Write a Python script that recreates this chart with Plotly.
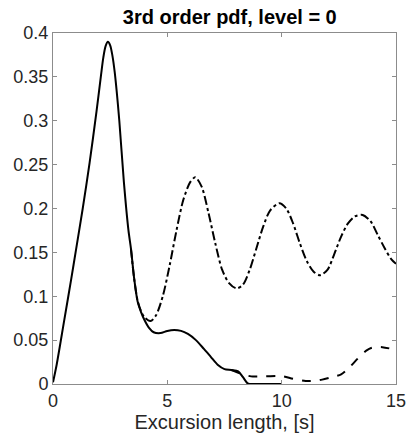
import plotly.graph_objects as go

# Solid curve (main pdf)
x_solid = [0.0, 0.16, 0.5, 0.8, 1.0, 1.3, 1.6, 1.9, 2.1, 2.2, 2.3, 2.4, 2.5, 2.6, 2.7, 2.9, 3.1, 3.3,
           3.41, 3.55, 3.7, 3.85, 4.0, 4.2, 4.4, 4.7, 5.0, 5.3, 5.6, 5.9, 6.25, 6.6, 6.9, 7.2, 7.5,
           7.8, 8.1, 8.3, 8.5, 8.6, 9.0, 10.0]
y_solid = [0.002, 0.022, 0.074, 0.12, 0.152, 0.2, 0.252, 0.31, 0.352, 0.372, 0.385, 0.39, 0.386,
           0.374, 0.355, 0.30, 0.23, 0.175, 0.154, 0.12, 0.094, 0.082, 0.073, 0.064, 0.059, 0.058,
           0.0605, 0.0615, 0.0605, 0.057, 0.050, 0.040, 0.031, 0.022, 0.017, 0.016, 0.0145, 0.008,
           0.001, 0.0, 0.0, 0.0]

# Dash-dot curve (oscillating)
x_dashdot = [3.41, 3.55, 3.7, 3.85, 4.0, 4.26, 4.5, 4.8, 5.1, 5.4, 5.7, 6.0, 6.22, 6.5, 6.8, 7.1,
             7.4, 7.7, 8.02, 8.3, 8.6, 8.9, 9.2, 9.5, 9.9, 10.2, 10.5, 10.8, 11.1, 11.4, 11.67, 12.0,
             12.3, 12.6, 12.9, 13.2, 13.54, 13.9, 14.2, 14.5, 14.8, 15.0]
y_dashdot = [0.154, 0.12, 0.095, 0.083, 0.076, 0.0717, 0.078, 0.10, 0.135, 0.175, 0.21, 0.23,
             0.2355, 0.225, 0.195, 0.16, 0.13, 0.115, 0.109, 0.113, 0.13, 0.155, 0.18, 0.198, 0.206,
             0.20, 0.183, 0.16, 0.14, 0.128, 0.124, 0.13, 0.148, 0.168, 0.183, 0.191, 0.1926, 0.185,
             0.17, 0.155, 0.142, 0.137]

# Dashed curve (tail)
x_dash = [7.8, 8.2, 8.66, 9.3, 10.0, 10.5, 11.05, 11.5, 11.77, 12.2, 12.6, 13.0, 13.33, 13.7,
          13.97, 14.4, 14.96]
y_dash = [0.016, 0.012, 0.0087, 0.0088, 0.009, 0.006, 0.0034, 0.0038, 0.005, 0.008, 0.011, 0.02,
          0.029, 0.038, 0.0415, 0.042, 0.039]

x_ticks = [0, 5, 10, 15]
y_ticks = [0, 0.05, 0.1, 0.15, 0.2, 0.25, 0.3, 0.35, 0.4]
y_tick_text = ["0", "0.05", "0.1", "0.15", "0.2", "0.25", "0.3", "0.35", "0.4"]

FONT = "Liberation Sans, Arial, sans-serif"
AX = "#8c8c8c"

fig = go.Figure()
fig.add_trace(go.Scatter(x=x_dashdot, y=y_dashdot, mode="lines",
                         line=dict(color="black", width=2, dash="dashdot", shape="spline", smoothing=0.8)))
fig.add_trace(go.Scatter(x=x_dash, y=y_dash, mode="lines",
                         line=dict(color="black", width=2, dash="dash", shape="spline", smoothing=0.8)))
fig.add_trace(go.Scatter(x=x_solid, y=y_solid, mode="lines",
                         line=dict(color="black", width=2, shape="spline", smoothing=0.8)))

fig.update_layout(
    width=417, height=441,
    margin=dict(l=53, r=11, t=33, b=55),
    paper_bgcolor="white", plot_bgcolor="white",
    showlegend=False,
    font=dict(family=FONT, color="#262626"),
    title=dict(text="<b>3rd order pdf, level = 0</b>", x=0.551, xanchor="center",
               y=1 - 17 / 441, yanchor="middle", yref="container",
               font=dict(size=20, color="black", family=FONT)),
)
fig.update_xaxes(range=[0, 15], tickvals=x_ticks, ticks="inside", ticklen=4, tickcolor=AX,
                 showline=True, linecolor=AX, linewidth=1, mirror="ticks", showgrid=False,
                 zeroline=False, tickfont=dict(size=18, color="#262626"),
                 title=dict(text="Excursion length, [s]", font=dict(size=20, color="#262626"),
                            standoff=5))
fig.update_yaxes(range=[0, 0.4], tickvals=y_ticks, ticktext=y_tick_text, ticks="inside",
                 ticklen=4, tickcolor=AX, showline=True, linecolor=AX, linewidth=1,
                 mirror="ticks", showgrid=False, zeroline=False,
                 tickfont=dict(size=18, color="#262626"))

fig.write_html("out.html")
